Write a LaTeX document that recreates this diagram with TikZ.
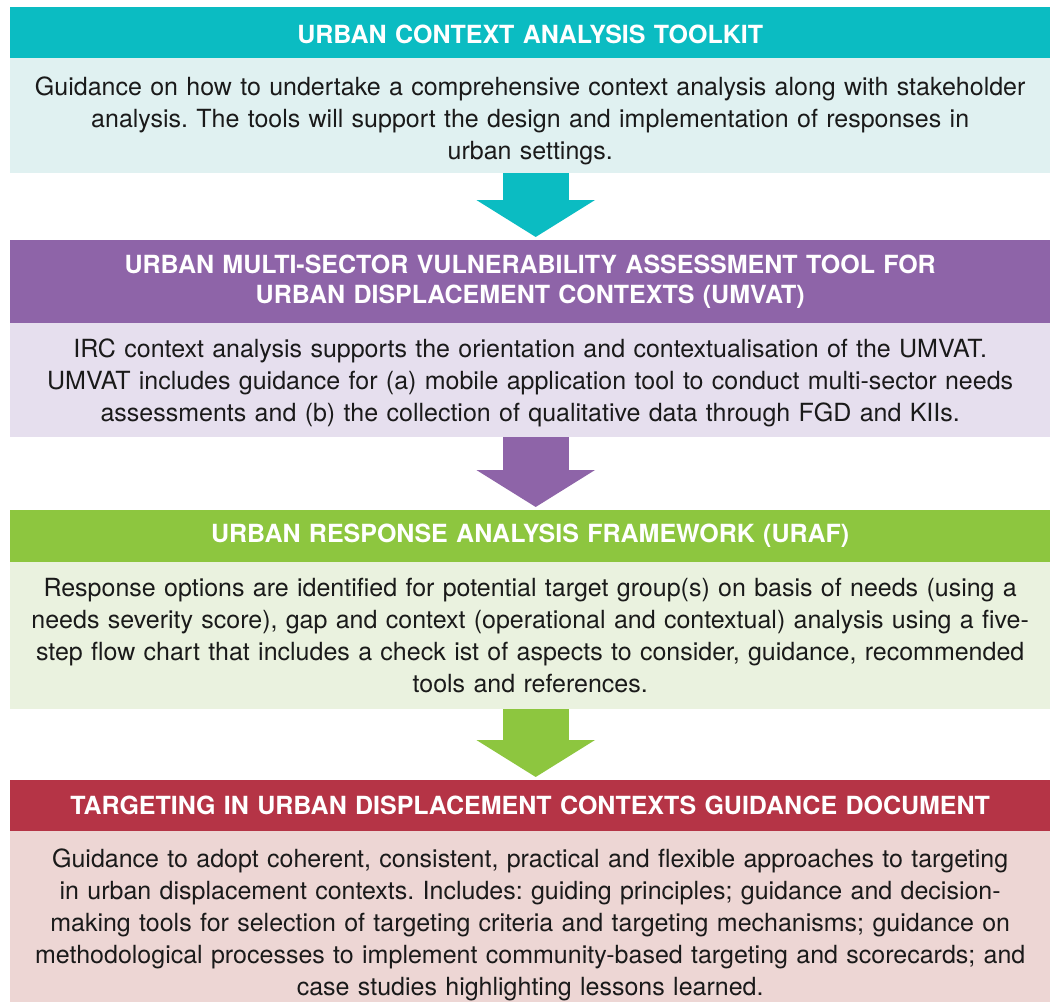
\documentclass[tikz,border=0pt]{standalone}
\usepackage{fontspec}
\setmainfont{TeX Gyre Heros}
\usetikzlibrary{arrows.meta}
\definecolor{tealH}{HTML}{0BBCC2}
\definecolor{tealB}{HTML}{E0F1F1}
\definecolor{purpH}{HTML}{8E64A8}
\definecolor{purpB}{HTML}{E6DFEE}
\definecolor{grnH}{HTML}{8DC63F}
\definecolor{grnB}{HTML}{EAF2DF}
\definecolor{redH}{HTML}{B53446}
\definecolor{redB}{HTML}{EDD6D4}
\definecolor{txt}{HTML}{1A1A1A}
\frenchspacing
\begin{document}
\begin{tikzpicture}[x=1pt,y=-1pt,
  head/.style={fill=#1, anchor=north west, inner sep=0pt, minimum width=1040pt},
  htext/.style={text=white, inner sep=0pt, text width=1030pt, align=center,
    font=\fontsize{25}{30}\selectfont\bfseries},
  body/.style={fill=#1, anchor=north west, inner sep=0pt, minimum width=1040pt},
  btext/.style={text=txt, inner sep=0pt, text width=1034pt, align=center,
    font=\fontsize{25}{32}\selectfont},
  flow/.style={draw=#1, line width=66pt, shorten >=3pt,
    -{Triangle[width=117pt,length=37pt]}}
]
\useasboundingbox[fill=white] (0,0) rectangle (1050,1002);

\node[head=tealH, minimum height=51pt] (h1) at (10,7) {};
\node[htext] (h1t) at ([yshift=-2pt]h1.center) {URBAN CONTEXT ANALYSIS TOOLKIT};
\node[body=tealB, minimum height=115pt] (b1) at (10,58) {};
\node[btext] (b1t) at ([yshift=-5pt]b1.center) {Guidance on how to undertake a comprehensive context analysis along with stakeholder\\
analysis. The tools will support the design and implementation of responses in\\
urban settings.};

\node[head=purpH, minimum height=83pt] (h2) at (10,240) {};
\node[htext] (h2t) at (h2.center) {URBAN MULTI-SECTOR VULNERABILITY ASSESSMENT TOOL FOR\\
URBAN DISPLACEMENT CONTEXTS (UMVAT)};
\node[body=purpB, minimum height=114pt] (b2) at (10,323) {};
\node[btext] (b2t) at ([yshift=-3pt]b2.center) {IRC context analysis supports the orientation and contextualisation of the UMVAT.\\
UMVAT includes guidance for (a) mobile application tool to conduct multi-sector needs\\
assessments and (b) the collection of qualitative data through FGD and KIIs.};

\node[head=grnH, minimum height=52pt] (h3) at (10,510) {};
\node[htext] (h3t) at (h3.center) {URBAN RESPONSE ANALYSIS FRAMEWORK (URAF)};
\node[body=grnB, minimum height=147pt] (b3) at (10,562) {};
\node[btext] (b3t) at (b3.center) {Response options are identified for potential target group(s) on basis of needs (using a\\
needs severity score), gap and context (operational and contextual) analysis using a five-\\
step flow chart that includes a check ist of aspects to consider, guidance, recommended\\
tools and references.};

\node[head=redH, minimum height=51pt] (h4) at (10,780) {};
\node[htext] (h4t) at (h4.center) {TARGETING IN URBAN DISPLACEMENT CONTEXTS GUIDANCE DOCUMENT};
\node[body=redB, minimum height=171pt] (b4) at (10,831) {};
\node[btext] (b4t) at ([yshift=-8pt]b4.center) {Guidance to adopt coherent, consistent, practical and flexible approaches to targeting\\
in urban displacement contexts. Includes: guiding principles; guidance and decision-\\
making tools for selection of targeting criteria and targeting mechanisms; guidance on\\
methodological processes to implement community-based targeting and scorecards; and\\
case studies highlighting lessons learned.};

\draw[flow=tealH] ([xshift=5.5pt]b1.south) -- ([xshift=5.5pt]h2.north);
\draw[flow=purpH] ([xshift=5.5pt]b2.south) -- ([xshift=5.5pt]h3.north);
\draw[flow=grnH] ([xshift=5.5pt]b3.south) -- ([xshift=5.5pt]h4.north);
\end{tikzpicture}
\end{document}
